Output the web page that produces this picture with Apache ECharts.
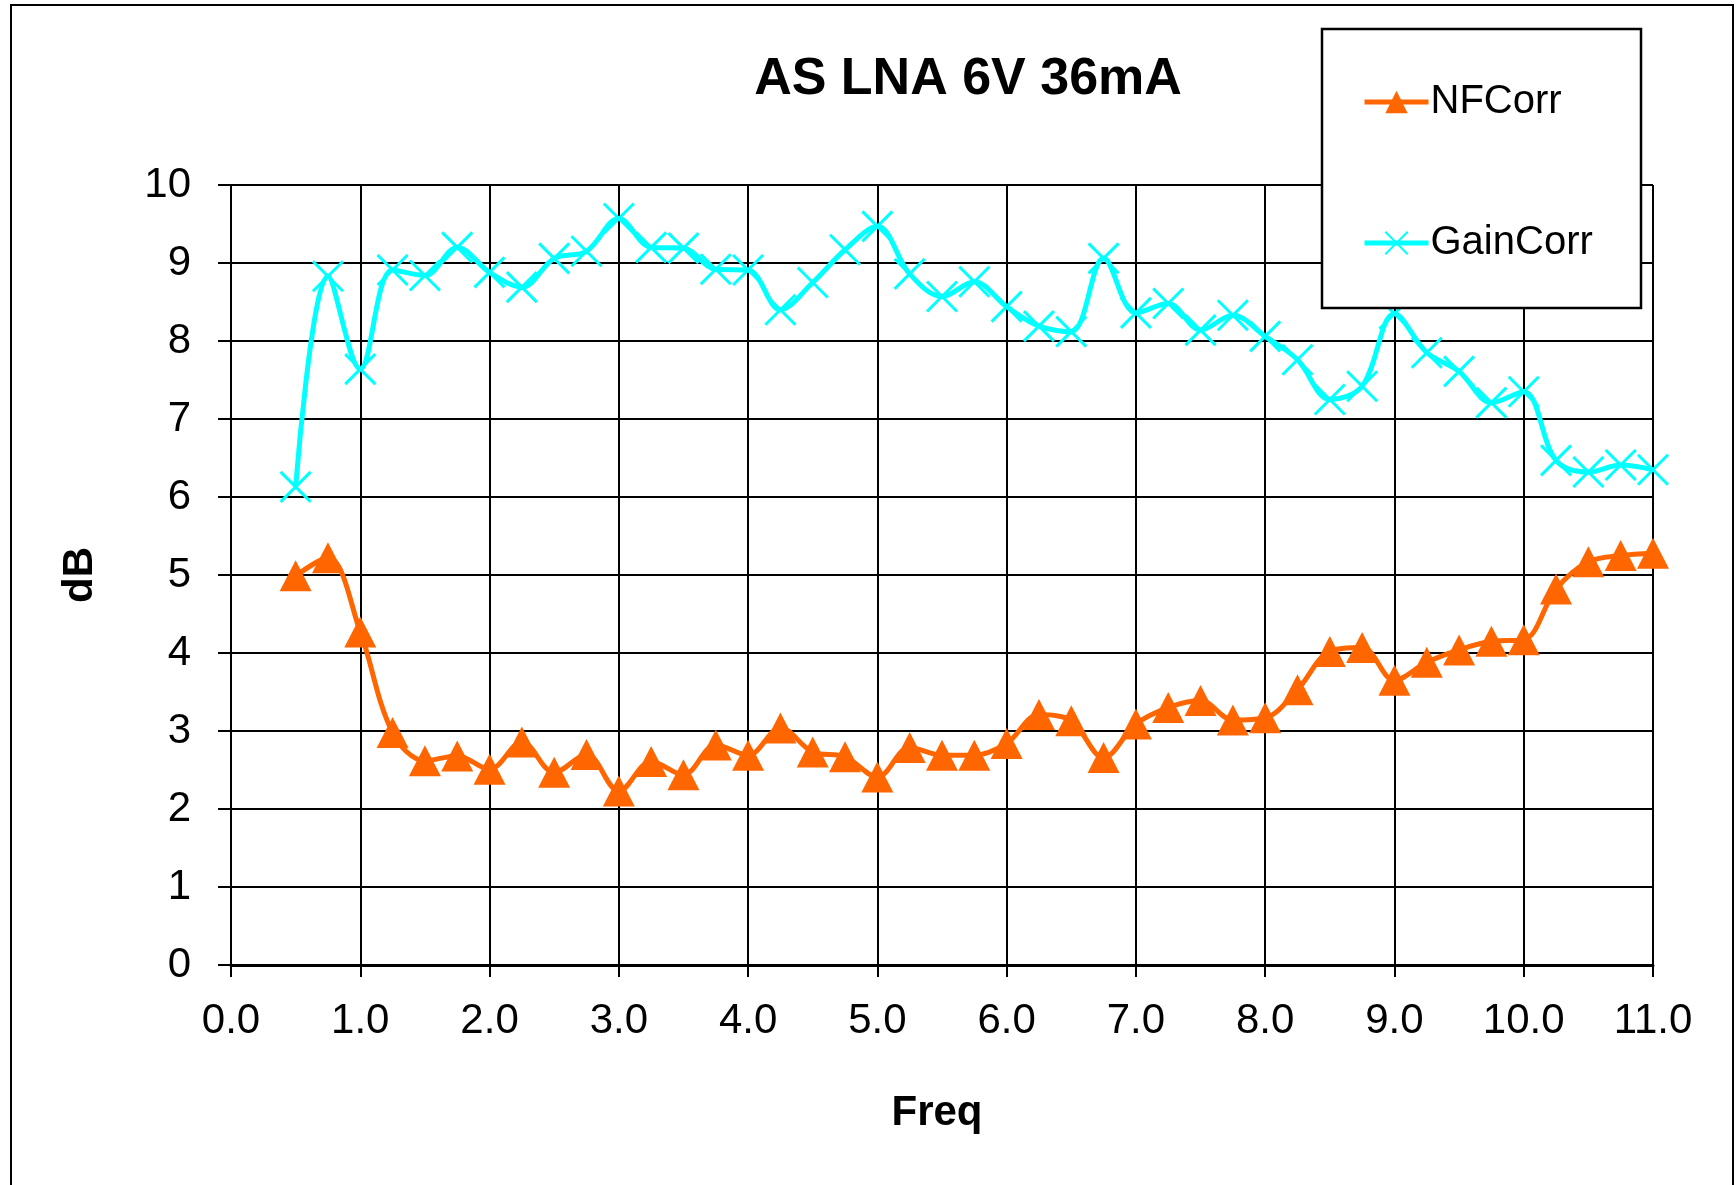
<!DOCTYPE html>
<html>
<head>
<meta charset="utf-8">
<title>AS LNA 6V 36mA</title>
<script src="https://cdn.jsdelivr.net/npm/echarts@6/dist/echarts.min.js"></script>
<style>
  html, body { margin: 0; padding: 0; background: #ffffff; }
  #chart { width: 1736px; height: 1185px; }
</style>
</head>
<body>
<div id="chart"></div>
<script>
// Measurement frequencies (axis "Freq")
const freq = [0.5, 0.75, 1.0, 1.25, 1.5, 1.75, 2.0, 2.25, 2.5, 2.75,
              3.0, 3.25, 3.5, 3.75, 4.0, 4.25, 4.5, 4.75, 5.0, 5.25,
              5.5, 5.75, 6.0, 6.25, 6.5, 6.75, 7.0, 7.25, 7.5, 7.75,
              8.0, 8.25, 8.5, 8.75, 9.0, 9.25, 9.5, 9.75, 10.0, 10.25,
              10.5, 10.75, 11.0];

// Corrected noise figure (dB)
const nfCorr = [4.99, 5.22, 4.27, 2.98, 2.62, 2.68, 2.51, 2.86, 2.47, 2.70,
                2.23, 2.61, 2.44, 2.82, 2.69, 3.04, 2.73, 2.67, 2.41, 2.79,
                2.69, 2.69, 2.84, 3.21, 3.13, 2.66, 3.09, 3.30, 3.39, 3.14,
                3.17, 3.53, 4.02, 4.07, 3.65, 3.88, 4.04, 4.15, 4.17, 4.82,
                5.17, 5.25, 5.28];

// Corrected gain (dB)
const gainCorr = [6.13, 8.83, 7.64, 8.91, 8.84, 9.20, 8.88, 8.69, 9.06, 9.15,
                  9.57, 9.20, 9.19, 8.92, 8.91, 8.40, 8.75, 9.17, 9.47, 8.86,
                  8.57, 8.76, 8.44, 8.19, 8.12, 9.06, 8.36, 8.48, 8.14, 8.33,
                  8.06, 7.76, 7.25, 7.42, 8.35, 7.85, 7.61, 7.21, 7.35, 6.47,
                  6.32, 6.41, 6.35];

const seriesNames = ['NFCorr', 'GainCorr'];
const titleText = 'AS LNA 6V 36mA';
const xName = 'Freq';
const yName = 'dB';

const FONT = '"Liberation Sans", Arial, sans-serif';
const ORANGE = '#FF6600';
const CYAN = '#00FFFF';
const CROSS = 'path://M0,0L10,10M10,0L0,10';

const pairs = (ys) => freq.map((f, i) => [f, ys[i]]);

const chart = echarts.init(document.getElementById('chart'), null, { renderer: 'canvas' });

chart.setOption({
  backgroundColor: '#ffffff',
  animation: false,
  graphic: [
    // outer chart frame
    { type: 'rect', z: 0, shape: { x: 11, y: 5, width: 1722, height: 1190 },
      style: { fill: '#ffffff', stroke: '#000000', lineWidth: 2 } },
    // legend frame
    { type: 'rect', z: 10, shape: { x: 1322, y: 29, width: 319, height: 279 },
      style: { fill: '#ffffff', stroke: '#000000', lineWidth: 2.5 } },
    // chart title
    { type: 'text', z: 20, x: 968, y: 80,
      style: { text: titleText, font: 'bold 52px ' + FONT, fill: '#000000',
               textAlign: 'center', textVerticalAlign: 'middle' } },
    // y axis title
    { type: 'text', z: 20, x: 80, y: 575, rotation: Math.PI / 2,
      style: { text: yName, font: 'bold 42px ' + FONT, fill: '#000000',
               textAlign: 'center', textVerticalAlign: 'middle' } },
    // x axis title
    { type: 'text', z: 20, x: 937, y: 1113,
      style: { text: xName, font: 'bold 42px ' + FONT, fill: '#000000',
               textAlign: 'center', textVerticalAlign: 'middle' } }
  ],
  legend: {
    z: 20,
    left: 1357,
    top: 77,
    orient: 'vertical',
    itemGap: 101,
    itemWidth: 64,
    itemHeight: 28,
    data: seriesNames,
    lineStyle: { width: 5 },
    textStyle: { fontFamily: FONT, fontSize: 40, color: '#000000', lineHeight: 40, padding: [0, 0, 0, -3] }
  },
  grid: {
    left: 231, top: 185, right: 83, bottom: 220,
    show: true, borderColor: '#808080', borderWidth: 2, backgroundColor: 'transparent'
  },
  xAxis: {
    type: 'value', min: 0, max: 11, interval: 1,
    axisLine: { show: true, onZero: false, lineStyle: { color: '#000000', width: 3 } },
    axisTick: { show: true, inside: false, length: 12, lineStyle: { color: '#000000', width: 2 } },
    axisLabel: { fontFamily: FONT, fontSize: 42, color: '#000000', margin: 35,
                 formatter: (v) => v.toFixed(1) },
    splitLine: { show: true, lineStyle: { color: '#000000', width: 2 } }
  },
  yAxis: {
    type: 'value', min: 0, max: 10, interval: 1,
    axisLine: { show: true, lineStyle: { color: '#000000', width: 2 } },
    axisTick: { show: true, inside: false, length: 13, lineStyle: { color: '#000000', width: 2 } },
    axisLabel: { fontFamily: FONT, fontSize: 42, color: '#000000', margin: 40 },
    splitLine: { show: true, lineStyle: { color: '#000000', width: 2 } }
  },
  series: [
    {
      name: seriesNames[0], type: 'line', data: pairs(nfCorr),
      smooth: 0.35, z: 3,
      symbol: 'triangle', symbolSize: [32, 31],
      lineStyle: { color: ORANGE, width: 5 },
      itemStyle: { color: ORANGE, borderWidth: 0 }
    },
    {
      name: seriesNames[1], type: 'line', data: pairs(gainCorr),
      smooth: 0.35, z: 4,
      symbol: CROSS, symbolSize: 30,
      lineStyle: { color: CYAN, width: 5 },
      itemStyle: { color: CYAN, borderColor: CYAN, borderWidth: 3 }
    }
  ]
});
</script>
</body>
</html>
